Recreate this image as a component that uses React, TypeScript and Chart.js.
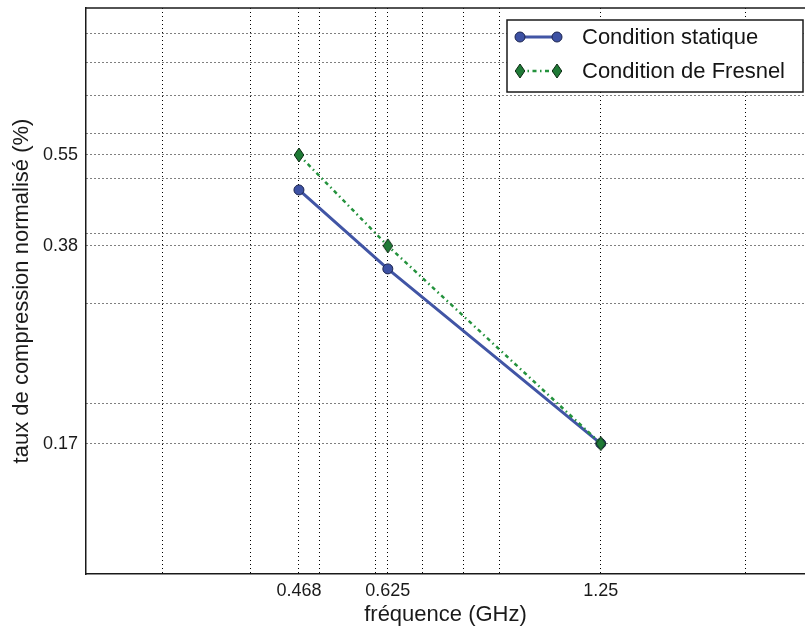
import React, { useEffect, useRef } from 'react';
import { Chart, registerables } from 'chart.js';

Chart.register(...registerables);

const frequencies = [0.468, 0.625, 1.25];
const staticValues = [0.477, 0.346, 0.17];
const fresnelValues = [0.55, 0.38, 0.17];
const seriesLabels = ['Condition statique', 'Condition de Fresnel'];

const xLabeledTicks = [0.468, 0.625, 1.25];
const xMinorTicks = [0.3, 0.4, 0.5, 0.6, 0.7, 0.8, 0.9, 2];
const yLabeledTicks = [0.17, 0.38, 0.55];
const yMinorTicks = [0.2, 0.3, 0.4, 0.5, 0.6, 0.7, 0.8, 0.9];

const xRange = [0.234, 2.43];
const yRange = [0.1, 1.0];

const xTitle = 'fréquence (GHz)';
const yTitle = 'taux de compression normalisé (%)';

const FONT = "'Liberation Sans', Arial, Helvetica, sans-serif";

function makeDiamond(): HTMLCanvasElement {
  const c = document.createElement('canvas');
  c.width = 12;
  c.height = 16;
  const g = c.getContext('2d')!;
  g.beginPath();
  g.moveTo(6, 1);
  g.lineTo(10.8, 8);
  g.lineTo(6, 15);
  g.lineTo(1.2, 8);
  g.closePath();
  g.fillStyle = '#1f7a36';
  g.fill();
  g.strokeStyle = '#0b2a12';
  g.lineWidth = 1;
  g.stroke();
  return c;
}

export default function App() {
  const ref = useRef<HTMLCanvasElement | null>(null);

  useEffect(() => {
    if (!ref.current) return;
    const diamond = makeDiamond();

    const frame = {
      id: 'frameTop',
      afterDraw(chart: any) {
        const { ctx, chartArea } = chart;
        ctx.save();
        ctx.strokeStyle = '#1a1a1a';
        ctx.lineWidth = 1.5;
        ctx.beginPath();
        ctx.moveTo(chartArea.left, chartArea.top);
        ctx.lineTo(chartArea.right, chartArea.top);
        ctx.stroke();
        ctx.restore();
      },
    };

    const boxLegend = {
      id: 'boxLegend',
      afterDatasetsDraw(chart: any) {
        const { ctx, chartArea } = chart;
        const w = 296;
        const h = 72;
        const right = chartArea.right - 2;
        const left = right - w;
        const top = chartArea.top + 12;
        ctx.save();
        ctx.fillStyle = '#ffffff';
        ctx.fillRect(left, top, w, h);
        ctx.strokeStyle = '#1a1a1a';
        ctx.lineWidth = 1.5;
        ctx.setLineDash([]);
        ctx.strokeRect(left, top, w, h);
        const dsList = chart.data.datasets;
        [0, 1].forEach((i: number) => {
          const ds = dsList[i];
          const y = top + 17 + i * 34;
          const x1 = left + 13;
          const x2 = left + 50;
          ctx.save();
          ctx.strokeStyle = ds.borderColor;
          ctx.lineWidth = ds.borderWidth;
          ctx.setLineDash(ds.borderDash || []);
          ctx.beginPath();
          ctx.moveTo(x1, y);
          ctx.lineTo(x2, y);
          ctx.stroke();
          ctx.setLineDash([]);
          [x1, x2].forEach((x) => {
            if (ds.pointStyle === diamond) {
              ctx.drawImage(diamond, x - diamond.width / 2, y - diamond.height / 2);
            } else {
              ctx.beginPath();
              ctx.arc(x, y, ds.pointRadius, 0, Math.PI * 2);
              ctx.fillStyle = ds.pointBackgroundColor;
              ctx.fill();
              ctx.strokeStyle = ds.pointBorderColor;
              ctx.lineWidth = 1;
              ctx.stroke();
            }
          });
          ctx.restore();
          ctx.fillStyle = '#151515';
          ctx.font = `22px ${FONT}`;
          ctx.textBaseline = 'middle';
          ctx.textAlign = 'left';
          ctx.fillText(ds.label, left + 75, y + 1);
        });
        ctx.restore();
      },
    };

    const xTicksAll = [...xMinorTicks, ...xLabeledTicks].sort((a, b) => a - b);
    const yTicksAll = [...yMinorTicks, ...yLabeledTicks].sort((a, b) => a - b);

    const chart = new Chart(ref.current, {
      type: 'line',
      data: {
        datasets: [
          {
            label: seriesLabels[0],
            data: frequencies.map((f, i) => ({ x: f, y: staticValues[i] })),
            borderColor: '#4155a5',
            borderWidth: 3,
            pointRadius: 5,
            pointHoverRadius: 5,
            pointBackgroundColor: '#3d51a3',
            pointBorderColor: '#1c2550',
            pointBorderWidth: 1,
            tension: 0,
            order: 1,
          } as any,
          {
            label: seriesLabels[1],
            data: frequencies.map((f, i) => ({ x: f, y: fresnelValues[i] })),
            borderColor: '#24923d',
            borderWidth: 2.5,
            borderDash: [4, 3.5, 1.5, 3.5],
            pointStyle: diamond,
            pointRadius: 6,
            tension: 0,
            order: 0,
          } as any,
        ],
      },
      options: {
        animation: false,
        responsive: false,
        maintainAspectRatio: false,
        layout: { autoPadding: false, padding: { top: 8, left: 0, right: 0, bottom: 0 } },
        plugins: {
          legend: { display: false },
          tooltip: { enabled: false },
        },
        scales: {
          x: {
            type: 'logarithmic',
            min: xRange[0],
            max: xRange[1],
            afterBuildTicks: (scale: any) => {
              scale.ticks = xTicksAll.map((v) => ({ value: v }));
            },
            afterFit: (scale: any) => {
              scale.height = 58;
              scale.paddingLeft = 0;
              scale.paddingRight = 0;
            },
            ticks: {
              autoSkip: false,
              maxRotation: 0,
              minRotation: 0,
              padding: 6,
              color: '#1a1a1a',
              font: { family: FONT, size: 18 },
              callback: (v: any) => (xLabeledTicks.includes(Number(v)) ? String(v) : ''),
            },
            grid: {
              color: '#000',
              lineWidth: 1,
              drawTicks: false,
            },
            border: { display: true, color: '#1a1a1a', width: 1.5, dash: [1, 3] },
            title: {
              display: true,
              text: xTitle,
              color: '#1a1a1a',
              font: { family: FONT, size: 22 },
              padding: { top: 0, bottom: 4 },
            },
          },
          y: {
            type: 'logarithmic',
            min: yRange[0],
            max: yRange[1],
            afterBuildTicks: (scale: any) => {
              scale.ticks = yTicksAll.map((v) => ({ value: v }));
            },
            afterFit: (scale: any) => {
              scale.width = 86;
              scale.paddingTop = 0;
              scale.paddingBottom = 0;
            },
            ticks: {
              autoSkip: false,
              padding: 8,
              color: '#1a1a1a',
              font: { family: FONT, size: 18 },
              callback: (v: any) => (yLabeledTicks.includes(Number(v)) ? String(v) : ''),
            },
            grid: {
              color: '#000',
              lineWidth: 1,
              drawTicks: false,
            },
            border: { display: true, color: '#1a1a1a', width: 1.5, dash: [1, 3] },
            title: {
              display: true,
              text: yTitle,
              color: '#1a1a1a',
              font: { family: FONT, size: 22 },
              padding: { top: 9, bottom: 0 },
            },
          },
        },
      },
      plugins: [frame, boxLegend],
    });

    return () => chart.destroy();
  }, []);

  return (
    <div style={{ position: 'fixed', left: 0, top: 0, width: 805, height: 632, background: '#fff' }}>
      <canvas ref={ref} width={805} height={632} style={{ display: 'block' }} />
    </div>
  );
}
